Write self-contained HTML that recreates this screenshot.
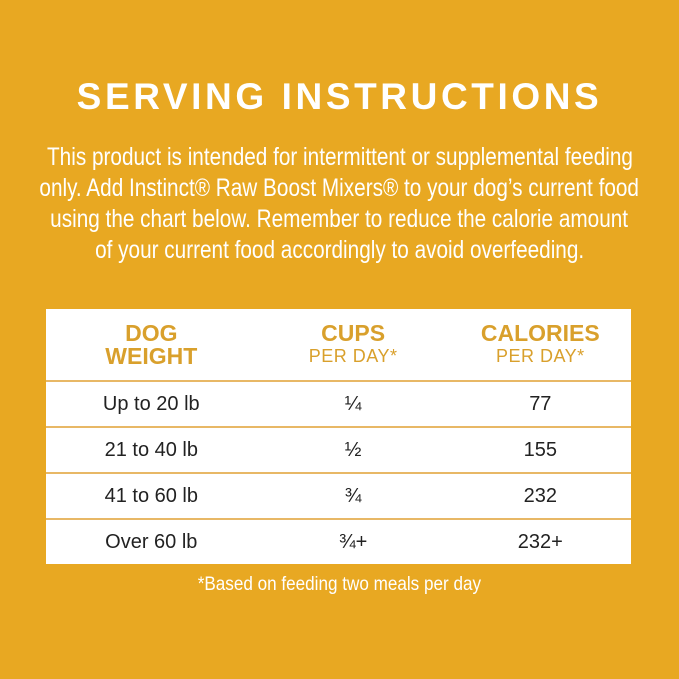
<!DOCTYPE html>
<html><head><style>
body{margin:0;width:679px;height:679px;background:#E8A822;font-family:"Liberation Sans",sans-serif;position:relative;overflow:hidden}
.t{position:absolute;left:-200px;width:1079px;text-align:center;color:#fff}
.title{top:76px;font-size:37px;font-weight:bold;letter-spacing:3.6px;left:0;width:679px}
.l{font-size:25px;white-space:nowrap}
.l span{display:inline-block;transform:scaleX(0.83)}
table{position:absolute;left:46px;top:309px;width:585px;background:#fff;border-collapse:collapse}
td{text-align:center;color:#222;font-size:20px;height:44px;border-top:2px solid #E8B866;padding:0}
th{height:71px;color:#D9A02C;font-size:23px;line-height:23px;font-weight:bold;padding:0}
th small{font-weight:normal;font-size:18px;display:block;letter-spacing:.5px}
.foot{top:574px;font-size:19px}
.foot span{transform:scaleX(0.9)}
</style></head><body>
<div class="t title">SERVING INSTRUCTIONS</div>
<div class="t l" style="top:143px"><span>This product is intended for intermittent or supplemental feeding</span></div>
<div class="t l" style="top:174px"><span>only. Add Instinct® Raw Boost Mixers® to your dog’s current food</span></div>
<div class="t l" style="top:205px"><span>using the chart below. Remember to reduce the calorie amount</span></div>
<div class="t l" style="top:236px"><span>of your current food accordingly to avoid overfeeding.</span></div>
<table>
<tr><th style="width:36%">DOG<br>WEIGHT</th><th style="width:33%">CUPS<small>PER DAY*</small></th><th>CALORIES<small>PER DAY*</small></th></tr>
<tr><td>Up to 20 lb</td><td>¼</td><td>77</td></tr>
<tr><td>21 to 40 lb</td><td>½</td><td>155</td></tr>
<tr><td>41 to 60 lb</td><td>¾</td><td>232</td></tr>
<tr><td>Over 60 lb</td><td>¾+</td><td>232+</td></tr>
</table>
<div class="t l foot"><span>*Based on feeding two meals per day</span></div>
</body></html>
